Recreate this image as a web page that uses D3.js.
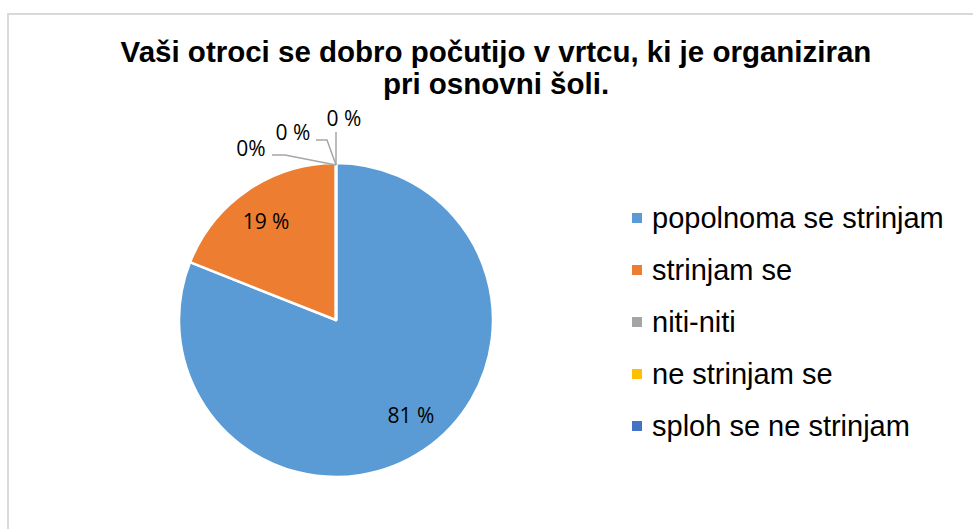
<!DOCTYPE html>
<html lang="sl">
<head>
    <meta charset="UTF-8">
    <title>Vaši otroci se dobro počutijo v vrtcu</title>
    <script src="https://d3js.org/d3.v7.min.js"></script>
    <style>
        body {
            margin: 0;
            padding: 0;
            background: #ffffff;
        }
        .title {
            font: bold 29.5px "Liberation Sans", Arial, sans-serif;
            fill: #000;
        }
        .legend text {
            font: 29px "Liberation Sans", Arial, sans-serif;
            fill: #000;
        }
        .label {
            font: 21px "Open Sans", "Liberation Sans", sans-serif;
            fill: #000;
        }
        .leader {
            fill: none;
            stroke: #a6a6a6;
            stroke-width: 1.5px;
        }
    </style>
</head>
<body>
    <svg id="chart" width="973" height="529"></svg>

    <script>
        // data
        const categories = ["popolnoma se strinjam", "strinjam se", "niti-niti", "ne strinjam se", "sploh se ne strinjam"];
        const values = [81, 19, 0, 0, 0];
        const labelText = ["81 %", "19 %", "0%", "0 %", "0 %"];
        const colors = ["#5b9bd5", "#ed7d31", "#a5a5a5", "#ffc000", "#4472c4"];
        const titleLines = ["Vaši otroci se dobro počutijo v vrtcu, ki je organiziran", "pri osnovni šoli."];

        // small nudges for the inside labels (Excel's best-fit placement)
        const labelNudge = [[7, -5], [-2, 1]];

        // leader line layout for the zero slices (offsets from the slice tip)
        const leaderLayout = {
            2: { pts: [[-51, -10], [-64, -10]], text: [-85, -17] },
            3: { pts: [[-9, -25], [-20, -25]], text: [-43, -33] },
            4: { pts: [[0, -33]], text: [8, -47] }
        };

        const svg = d3.select("#chart");

        // outer frame
        svg.append("rect")
            .attr("x", 8).attr("y", 14)
            .attr("width", 990).attr("height", 560)
            .attr("fill", "none")
            .attr("stroke", "#d9d9d9")
            .attr("stroke-width", 2);

        svg.selectAll(".title")
            .data(titleLines)
            .enter().append("text")
            .attr("class", "title")
            .attr("x", 496)
            .attr("y", (d, i) => 62 + i * 32)
            .attr("text-anchor", "middle")
            .text(d => d);

        const cx = 336, cy = 320, r = 157;
        const g = svg.append("g").attr("transform", `translate(${cx},${cy})`);

        const pie = d3.pie().sort(null).value(d => d);
        const arcs = pie(values);
        const arc = d3.arc().innerRadius(0).outerRadius(r);
        const labelArc = d3.arc().innerRadius(r * 0.77).outerRadius(r * 0.77);

        g.selectAll("path.slice")
            .data(arcs)
            .enter().append("path")
            .attr("class", "slice")
            .attr("d", arc)
            .attr("fill", (d, i) => colors[i])
            .attr("stroke", "#fff")
            .attr("stroke-width", 2.5)
            .attr("stroke-linejoin", "round");

        arcs.forEach((d, i) => {
            if (d.value > 0) {
                const [x, y] = labelArc.centroid(d);
                const n = labelNudge[i] || [0, 0];
                g.append("text")
                    .attr("class", "label")
                    .attr("x", x + n[0]).attr("y", y + n[1])
                    .attr("text-anchor", "middle")
                    .attr("dominant-baseline", "central")
                    .text(labelText[i]);
            } else {
                const lay = leaderLayout[i];
                const tip = [r * Math.sin(d.startAngle), -r * Math.cos(d.startAngle) + 2];
                const pts = [tip].concat(lay.pts.map(p => [tip[0] + p[0], tip[1] + p[1]]));
                g.append("path")
                    .attr("class", "leader")
                    .attr("d", d3.line()(pts));
                g.append("text")
                    .attr("class", "label")
                    .attr("x", tip[0] + lay.text[0])
                    .attr("y", tip[1] + lay.text[1])
                    .attr("text-anchor", "middle")
                    .attr("dominant-baseline", "central")
                    .text(labelText[i]);
            }
        });

        // legend
        const legend = svg.append("g").attr("class", "legend")
            .attr("transform", "translate(632,218)");
        const item = legend.selectAll("g")
            .data(categories)
            .enter().append("g")
            .attr("transform", (d, i) => `translate(0,${i * 52})`);
        item.append("rect")
            .attr("x", 0).attr("y", -5)
            .attr("width", 10).attr("height", 10)
            .attr("fill", (d, i) => colors[i]);
        item.append("text")
            .attr("x", 20)
            .attr("y", 0)
            .attr("dominant-baseline", "central")
            .text(d => d);
    </script>
</body>
</html>
